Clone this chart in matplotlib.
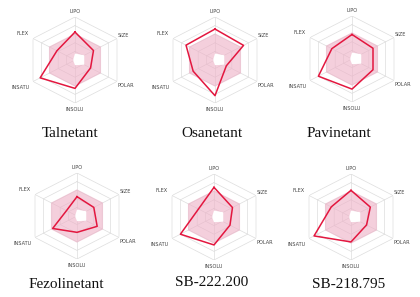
import numpy as np
import matplotlib
matplotlib.use('Agg')
import matplotlib.pyplot as plt

# -------------------------------------------------------------------
# Data: bioavailability radar (relative scale, outer ring = 1)
# -------------------------------------------------------------------
props = ['LIPO', 'SIZE', 'POLAR', 'INSOLU', 'INSATU', 'FLEX']
compounds = ['Talnetant', 'Osanetant', 'Pavinetant',
             'Fezolinetant', 'SB-222.200', 'SB-218.795']

talnetant = [0.65, 0.44, 0.37, 0.66, 0.83, 0.43]
osanetant = [0.72, 0.68, 0.27, 0.83, 0.52, 0.69]
pavinetant = [0.57, 0.50, 0.50, 0.70, 0.80, 0.48]
fezolinetant = [0.45, 0.40, 0.48, 0.38, 0.58, 0.25]
sb222200 = [0.69, 0.44, 0.38, 0.65, 0.80, 0.37]
sb218795 = [0.62, 0.46, 0.37, 0.58, 0.88, 0.47]

optimal_upper = [0.62, 0.62, 0.62, 0.62, 0.62, 0.62]
optimal_lower = [0.15, 0.22, 0.22, 0.12, 0.04, 0.04]
grid_rings = [0.2, 0.4, 0.6, 0.8, 1.0]

series = [talnetant, osanetant, pavinetant, fezolinetant, sb222200, sb218795]

# layout (pixels in a 420x297 image)
centers = [(75, 60), (215, 60), (352, 59), (77, 216), (214, 217), (351, 217)]
title_pos = [(70, 133), (212, 133), (339, 133), (66, 284), (212, 282), (349, 285)]
label_r = [1.13, 1.15, 1.2, 1.16, 1.3, 1.24]
W, H = 420, 297
RX, RY = 48.5, 43

theta = np.deg2rad(np.arange(0, 360, 60))
th_closed = np.append(theta, theta[0])


def closed(vals):
    return np.append(vals, vals[0])


fig = plt.figure(figsize=(4.2, 2.97), dpi=100)
fig.patch.set_facecolor('white')

for name, vals, (cx, cy), (tx, ty) in zip(compounds, series, centers, title_pos):
    ax = fig.add_axes([(cx - RX) / W, 1 - (cy + RY) / H, 2 * RX / W, 2 * RY / H],
                      projection='polar')
    ax.set_aspect('auto')
    ax.set_theta_zero_location('N')
    ax.set_theta_direction(-1)
    ax.set_ylim(0, 1)
    ax.axis('off')

    # hexagonal grid + spokes
    for r in grid_rings:
        ax.plot(th_closed, [r] * 7, color='#dddddd', lw=0.5, zorder=1)
    for t in theta:
        ax.plot([t, t], [0, 1], color='#dddddd', lw=0.5, zorder=1)

    # optimal range
    ax.fill(th_closed, closed(optimal_upper), color='#eeb0c6', alpha=0.6, lw=0, zorder=2)
    ax.fill(th_closed, closed(optimal_lower), color='white', lw=0, zorder=3)

    # compound
    ax.plot(th_closed, closed(vals), color='#e3173f', lw=1.1, zorder=4)

    for t, lab, r in zip(theta, props, label_r):
        ax.text(t, r, lab, fontsize=3.6, color='#444444', ha='center', va='center',
                clip_on=False)

    fig.text(tx / W, 1 - ty / H, name, fontsize=11, family='Liberation Serif',
             color='#111111', ha='center', va='center')

fig.savefig('out.png', dpi=100, facecolor='white')
